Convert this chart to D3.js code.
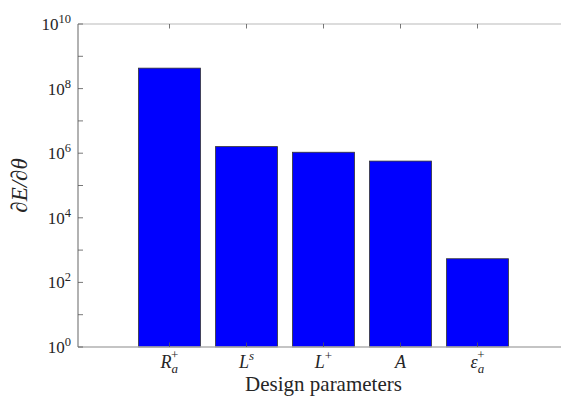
<!DOCTYPE html>
<html>
<head>
<meta charset="utf-8">
<script src="https://cdn.jsdelivr.net/npm/d3@7"></script>
<style>
  html, body { margin: 0; padding: 0; background: #fff; }
  svg { display: block; }
</style>
</head>
<body>
<svg id="chart" width="561" height="396"></svg>
<script>
// Sensitivity of E with respect to each design parameter
const paramBase = ["R", "L", "L", "A", "ε"];
const paramSub  = ["a", "", "", "", "a"];
const paramSup  = ["+", "s", "+", "", "+"];
const sensitivity = [4.3e8, 1.6e6, 1.07e6, 5.7e5, 540];
const yTickExponents = [0, 2, 4, 6, 8, 10];

(function () {
const FONT = "'Liberation Serif', 'Times New Roman', serif";
const TEXT_COLOR = "#262626";
const svg = d3.select("#chart");
const plotLeft = 78, plotTop = 24, plotBottom = 347, plotRight = 600;

const x = d3.scaleLinear().domain([0, 4]).range([169.5, 477.5]);
const barW = 62;
const y = d3.scaleLog().domain([1, 1e10]).range([plotBottom, plotTop]);

// bars
svg.append("g").selectAll("rect")
  .data(sensitivity)
  .join("rect")
  .attr("x", (d, i) => x(i) - barW / 2)
  .attr("width", barW)
  .attr("y", d => y(d))
  .attr("height", d => plotBottom - y(d))
  .attr("fill", "#0000ff")
  .attr("stroke", "#333")
  .attr("stroke-width", 0.8);

const axisColor = "#b0b0b0";
const tickColor = "#555";

// axes box (left, top, bottom; right side runs past the frame)
const box = svg.append("g").attr("fill", "none").attr("stroke", axisColor).attr("stroke-width", 1.5);
box.append("line").attr("x1", plotLeft).attr("x2", plotRight).attr("y1", plotBottom).attr("y2", plotBottom);
box.append("line").attr("x1", plotLeft).attr("x2", plotRight).attr("y1", plotTop).attr("y2", plotTop).attr("stroke", "#d0d0d0");
box.append("line").attr("x1", plotLeft).attr("x2", plotLeft).attr("y1", plotTop).attr("y2", plotBottom).attr("stroke", "#999");

// y ticks (major and minor), pointing inward
const allTicks = y.ticks();
const ticksG = svg.append("g").attr("stroke", tickColor).attr("stroke-width", 0.8);
allTicks.forEach(t => {
  const e = Math.log10(t);
  const major = Math.abs(e - Math.round(e)) < 1e-9;
  const len = major ? 5 : 2.5;
  ticksG.append("line")
    .attr("x1", plotLeft).attr("x2", plotLeft + len)
    .attr("y1", y(t)).attr("y2", y(t));
});

// x ticks at category centers on bottom and top
sensitivity.forEach((d, i) => {
  ticksG.append("line").attr("x1", x(i)).attr("x2", x(i)).attr("y1", plotBottom).attr("y2", plotBottom - 4.5);
  ticksG.append("line").attr("x1", x(i)).attr("x2", x(i)).attr("y1", plotTop).attr("y2", plotTop + 4.5);
});

// y tick labels 10^n
const yl = svg.append("g");
yTickExponents.forEach(e => {
  const t = yl.append("text")
    .attr("x", 71).attr("y", y(Math.pow(10, e)) + 6)
    .attr("text-anchor", "end")
    .attr("fill", TEXT_COLOR)
    .style("font-family", FONT)
    .style("font-size", "17px");
  t.append("tspan").text("10");
  t.append("tspan").attr("dy", -7).style("font-size", "12.5px").text(String(e));
});

// category labels
const cl = svg.append("g");
paramBase.forEach((b, i) => {
  const g = cl.append("text")
    .attr("x", x(i)).attr("y", 368)
    .attr("text-anchor", "middle")
    .attr("fill", TEXT_COLOR)
    .style("font-family", FONT)
    .style("font-size", "18px")
    .style("font-style", "italic");
  g.append("tspan").text(b);
  if (paramSub[i] && paramSup[i]) {
    g.append("tspan").attr("dy", 5).style("font-size", "13px").text(paramSub[i]);
    g.append("tspan").attr("dx", -7).attr("dy", -14).style("font-size", "13px")
      .style("font-style", "normal").text(paramSup[i]);
  } else if (paramSup[i]) {
    g.append("tspan").attr("dy", -8).style("font-size", "13px")
      .style("font-style", paramSup[i] === "+" ? "normal" : "italic").text(paramSup[i]);
  }
});

// axis titles
svg.append("text")
  .attr("x", 323.5).attr("y", 391)
  .attr("text-anchor", "middle")
  .attr("fill", TEXT_COLOR)
  .style("font-family", FONT)
  .style("font-size", "21px")
  .text("Design parameters");

svg.append("text")
  .attr("transform", `translate(27, ${(plotTop + plotBottom) / 2}) rotate(-90)`)
  .attr("text-anchor", "middle")
  .attr("fill", TEXT_COLOR)
  .style("font-family", FONT)
  .style("font-size", "23px")
  .style("font-style", "italic")
  .text("∂E/∂θ");
})();
</script>
</body>
</html>
